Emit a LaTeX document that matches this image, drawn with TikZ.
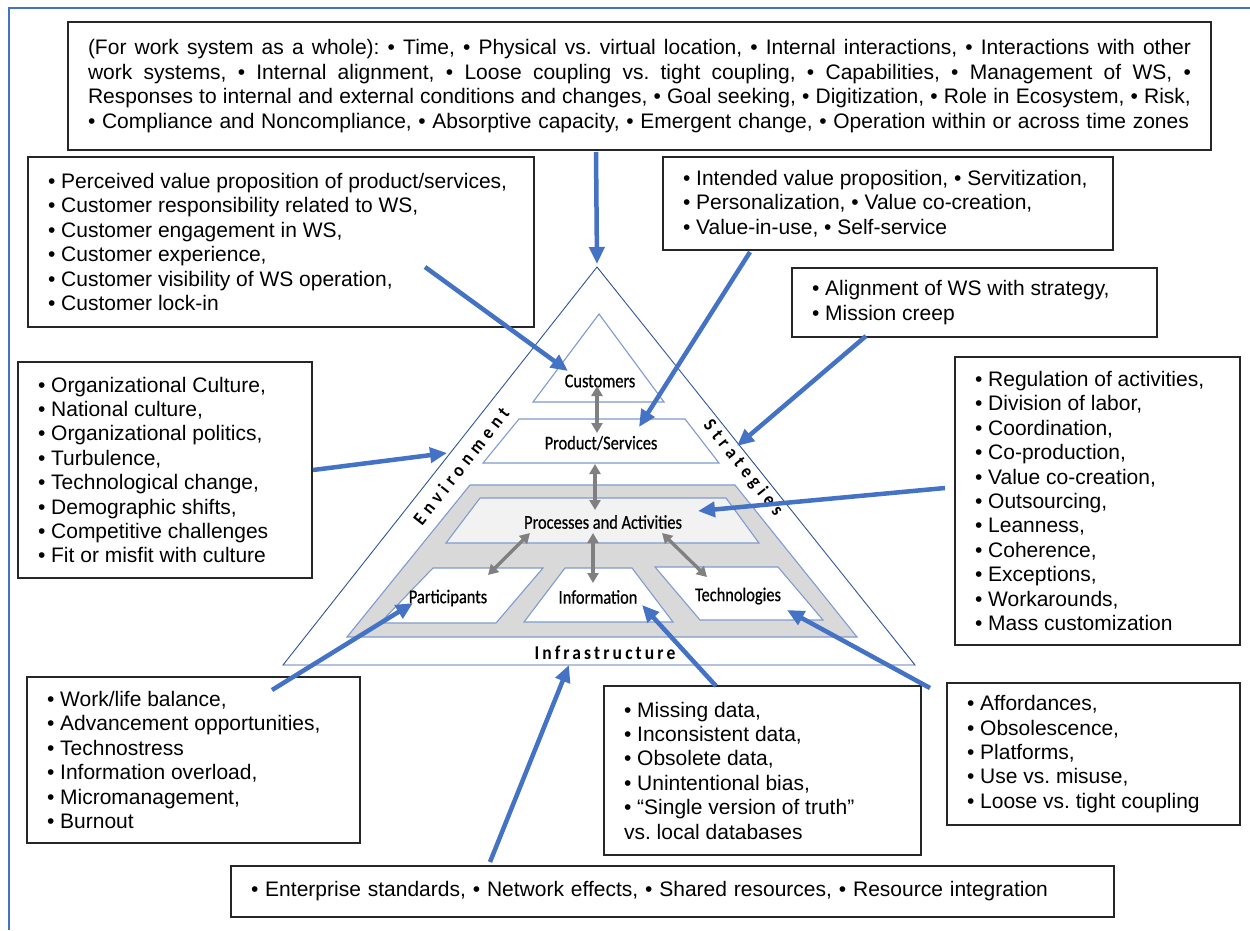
\documentclass[tikz,border=0pt]{standalone}
\usepackage{fontspec}
\setmainfont{Liberation Sans}
\newfontfamily\lblfont{Carlito}[FakeStretch=0.84, FakeBold=0.6]
\newfontfamily\sidefont{Carlito}[FakeStretch=0.9, LetterSpace=27]
\newfontfamily\basefont{Carlito}[FakeStretch=0.9, LetterSpace=16]
\usetikzlibrary{arrows.meta}
\definecolor{wsblue}{HTML}{4472C4}
\definecolor{edgeblue}{HTML}{2F5597}
\definecolor{layerblue}{HTML}{7F9BCF}
\definecolor{shade}{HTML}{D9D9D9}
\definecolor{lightshade}{HTML}{F2F2F2}
\definecolor{linkgray}{HTML}{808080}
% use the font's own word spaces inside left-aligned boxes
\newcommand\natspace{\spaceskip=0pt\xspaceskip=0pt\relax}
\tikzset{
  box/.style={draw=black!85, line width=1.2pt, fill=white, align=left,
    inner xsep=20pt, inner ysep=0pt,
    font=\fontsize{21}{24.4}\selectfont\frenchspacing},
  layer/.style={draw=layerblue, line width=1.1pt},
  lbl/.style={font=\lblfont\fontsize{19.5}{20}\selectfont, inner sep=0pt},
  sidelbl/.style={inner sep=0pt, font=\sidefont\bfseries\fontsize{19}{20}\selectfont},
  pointer/.style={draw=wsblue, line width=4.5pt, -{Triangle[length=17pt,width=15pt]}},
  link/.style={draw=linkgray, line width=3.3pt,
    {Triangle[length=10pt,width=11pt]}-{Triangle[length=10pt,width=11pt]}},
}
\begin{document}
\begin{tikzpicture}[x=1pt,y=-1pt]
\useasboundingbox (0,0) rectangle (1250,930);

% outer frame
\draw[wsblue, line width=2pt] (9,930) -- (9,8) -- (1250,8);

% ---------- work system pyramid ----------
\draw[edgeblue, line width=0.9pt, fill=white] (597,267) -- (283,665) -- (915,665) -- cycle;
\draw[layer] (599,314) -- (533,402) -- (664,402) -- cycle;
\draw[layer, fill=white] (519,419) -- (685,419) -- (719,463) -- (483,463) -- cycle;
\draw[layer, fill=shade] (470,485) -- (735,485) -- (857,637) -- (347,637) -- cycle;
\draw[layer, fill=lightshade] (480,498) -- (726,498) -- (759,543) -- (446,543) -- cycle;
\draw[layer, fill=white] (433,568) -- (543,568) -- (496,623) -- (380,623) -- cycle;
\draw[layer, fill=white] (565,568) -- (632,568) -- (673,622) -- (524,622) -- cycle;
\draw[layer, fill=white] (655,567) -- (778,567) -- (823,620) -- (700,620) -- cycle;

\node[lbl] (cust) at (600,381) {Customers};
\node[lbl] (prod) at (601,443) {Product/Services};
\node[lbl] (proc) at (603,522) {Processes and Activities};
\node[lbl] (part) at (448,598) {Participants};
\node[lbl] (info) at (598,597) {Information};
\node[lbl] (tech) at (738,596) {Technologies};

\node[sidelbl, rotate=51.7] (envlbl) at (461,466) {Environment};
\node[sidelbl, rotate=-51.5] (stratlbl) at (743,468) {Strategies};
\node[inner sep=0pt, font=\basefont\bfseries\fontsize{19.5}{20}\selectfont] (infra) at (605,653) {Infrastructure};

% links between the elements
\coordinate (c1) at (597,386); \coordinate (c2) at (597,433);
\coordinate (p1) at (595,464); \coordinate (p2) at (595,510);
\coordinate (a1) at (530,533); \coordinate (a2) at (488,575);
\coordinate (i1) at (593,533); \coordinate (i2) at (593,583);
\coordinate (t1) at (662,533); \coordinate (t2) at (707,577);
\draw[link] (c1) -- (c2);
\draw[link] (p1) -- (p2);
\draw[link] (a1) -- (a2);
\draw[link] (i1) -- (i2);
\draw[link] (t1) -- (t2);

% ---------- text boxes ----------
\node[box, text width=1103pt, minimum width=1143pt, minimum height=128pt] (whole) at (639.5,86) {\natspace
\makebox[1103pt][s]{(For work system as a whole): • Time, • Physical vs. virtual location, • Internal interactions, • Interactions with other}\\
\makebox[1103pt][s]{work systems, • Internal alignment, • Loose coupling vs. tight coupling, • Capabilities, • Management of WS, •}\\
\makebox[1103pt][s]{Responses to internal and external conditions and changes, • Goal seeking, • Digitization, • Role in Ecosystem, • Risk,}\\
\makebox[1101pt][s]{• Compliance and Noncompliance, • Absorptive capacity, • Emergent change, • Operation within or across time zones}};

\node[box, text width=466pt, minimum width=506pt, minimum height=170pt] (custbox) at (281,242) {\natspace
• Perceived value proposition of product/services,\\
• Customer responsibility related to WS,\\
• Customer engagement in WS,\\
• Customer experience,\\
• Customer visibility of WS operation,\\
• Customer lock-in};

\node[box, text width=410pt, minimum width=450pt, minimum height=93pt] (valbox) at (888,203.5) {\natspace
\mbox{• Intended value proposition, • Servitization,}\\
• Personalization, • Value co-creation,\\
• Value-in-use, • Self-service};

\node[box, text width=325pt, minimum width=365pt, minimum height=69pt] (alignbox) at (974.5,302.5) {\natspace
• Alignment of WS with strategy,\\
• Mission creep};

\node[box, text width=254pt, minimum width=294pt, minimum height=216pt] (envbox) at (165,470) {\natspace
• Organizational Culture,\\
• National culture,\\
• Organizational politics,\\
• Turbulence,\\
• Technological change,\\
• Demographic shifts,\\
• Competitive challenges\\
• Fit or misfit with culture};

\node[box, text width=245pt, minimum width=285pt, minimum height=288pt] (stratbox) at (1097.5,501) {\natspace
• Regulation of activities,\\
• Division of labor,\\
• Coordination,\\
• Co-production,\\
• Value co-creation,\\
• Outsourcing,\\
• Leanness,\\
• Coherence,\\
• Exceptions,\\
• Workarounds,\\
• Mass customization};

\node[box, text width=293pt, minimum width=333pt, minimum height=166pt] (partbox) at (193.5,760) {\natspace
• Work/life balance,\\
• Advancement opportunities,\\
• Technostress\\
• Information overload,\\
• Micromanagement,\\
• Burnout};

\node[box, text width=277pt, minimum width=317pt, minimum height=169pt] (infobox) at (762.5,770.5) {\natspace
• Missing data,\\
• Inconsistent data,\\
• Obsolete data,\\
• Unintentional bias,\\
• “Single version of truth”\\
vs. local databases};

\node[box, text width=253pt, minimum width=293pt, minimum height=142pt] (techbox) at (1093.5,754) {\natspace
• Affordances,\\
• Obsolescence,\\
• Platforms,\\
• Use vs. misuse,\\
• Loose vs. tight coupling};

\node[box, text width=843pt, minimum width=883pt, minimum height=51pt] (infrabox) at (672.5,891.5) {\natspace
\makebox[797pt][s]{• Enterprise standards, • Network effects, • Shared resources, • Resource integration}};

% ---------- pointers from boxes into the pyramid ----------
\coordinate (s1) at (596,152);  \coordinate (e1) at (597,264);
\coordinate (s2) at (425,267);  \coordinate (e2) at (568,371);
\coordinate (s3) at (750,252);  \coordinate (e3) at (639,427);
\coordinate (s4) at (866,336);  \coordinate (e4) at (737,446);
\coordinate (s5) at (313,470);  \coordinate (e5) at (447,453);
\coordinate (s6) at (945,488);  \coordinate (e6) at (698,511);
\coordinate (s7) at (272,690);  \coordinate (e7) at (413,603);
\coordinate (s8) at (716,686);  \coordinate (e8) at (642,605);
\coordinate (s9) at (930,688);  \coordinate (e9) at (787,610);
\coordinate (s10) at (490,862); \coordinate (e10) at (569,665);
\foreach \k in {1,...,10} \draw[pointer] (s\k) -- (e\k);
\end{tikzpicture}
\end{document}
